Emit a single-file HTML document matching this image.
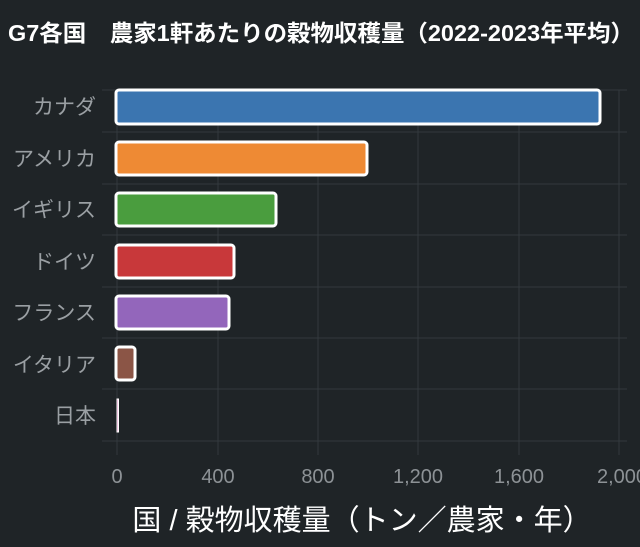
<!DOCTYPE html>
<html><head><meta charset="utf-8"><style>
body{margin:0;background:#1f2427;}
svg{display:block;font-family:"Liberation Sans","Noto Sans CJK JP",sans-serif;}
</style></head><body>
<svg width="640" height="547" viewBox="0 0 640 547">
<rect width="640" height="547" fill="#1f2427"/>
<text x="8" y="41" fill="#fff" font-size="23" font-weight="bold" textLength="626" lengthAdjust="spacingAndGlyphs">G7各国　農家1軒あたりの穀物収穫量（2022-2023年平均）</text>
<g stroke="#33393d" stroke-width="1">
<line x1="117" y1="90" x2="117" y2="455"/><line x1="218" y1="90" x2="218" y2="455"/>
<line x1="318" y1="90" x2="318" y2="455"/><line x1="418" y1="90" x2="418" y2="455"/>
<line x1="519" y1="90" x2="519" y2="455"/><line x1="619" y1="90" x2="619" y2="455"/>
<line x1="102" y1="90" x2="627" y2="90"/><line x1="102" y1="132" x2="627" y2="132"/>
<line x1="102" y1="184" x2="627" y2="184"/><line x1="102" y1="235" x2="627" y2="235"/>
<line x1="102" y1="287" x2="627" y2="287"/><line x1="102" y1="338" x2="627" y2="338"/>
<line x1="102" y1="389" x2="627" y2="389"/><line x1="102" y1="441" x2="627" y2="441"/>
</g>
<g stroke="#fff" stroke-width="3">
<rect x="116" y="90" width="484" height="34" rx="3" fill="#3b75b0"/>
<rect x="116" y="142" width="251" height="33" rx="3" fill="#ee8a34"/>
<rect x="116" y="193" width="160" height="33" rx="3" fill="#4a9d3e"/>
<rect x="116" y="245" width="118" height="33" rx="3" fill="#c8383a"/>
<rect x="116" y="296" width="113" height="33" rx="3" fill="#9366bb"/>
<rect x="116" y="347" width="19" height="33" rx="3" fill="#8b5546"/>
<rect x="117" y="399" width="1.5" height="33" fill="#e78fc8" stroke-width="1"/>
</g>
<g fill="#9a9fa3" font-size="21" text-anchor="end">
<text x="96" y="114">カナダ</text><text x="96" y="166">アメリカ</text>
<text x="96" y="217">イギリス</text><text x="96" y="269">ドイツ</text>
<text x="96" y="320">フランス</text><text x="96" y="372">イタリア</text>
<text x="96" y="423">日本</text>
</g>
<g fill="#8d9296" font-size="20" text-anchor="middle">
<text x="117" y="483">0</text><text x="218" y="483">400</text><text x="318" y="483">800</text>
<text x="418" y="483">1,200</text><text x="519" y="483">1,600</text><text x="622" y="483">2,000</text>
</g>
<text x="362" y="530" fill="#fff" font-size="29" text-anchor="middle">国 / 穀物収穫量（トン／農家・年）</text>
</svg>
</body></html>
